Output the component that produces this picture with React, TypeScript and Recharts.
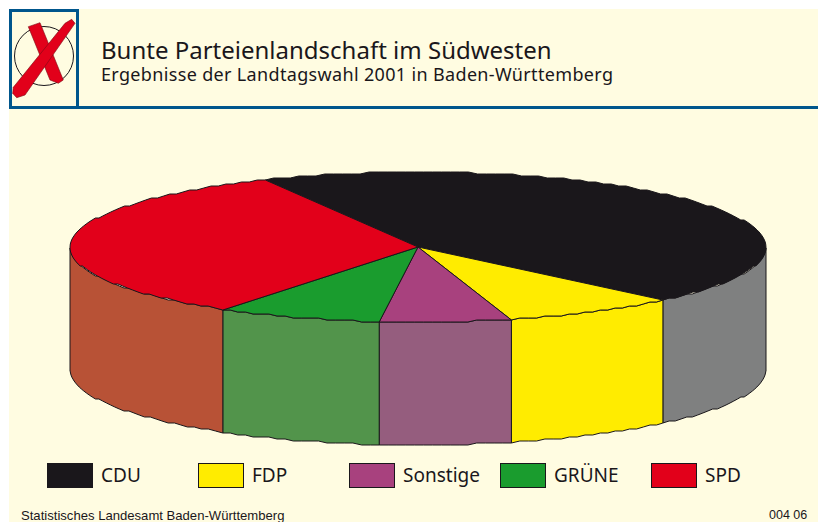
import { PieChart, Pie, Legend } from 'recharts'

const PARTIES = ['CDU', 'FDP', 'Sonstige', 'GRÜNE', 'SPD']
const SHARES = [44.8, 8.1, 6.1, 7.7, 33.3]
const TOP_COLORS = ['#1A171B', '#FFEC00', '#A8417E', '#1A9C2E', '#E2001A']
const WALL_COLORS = ['#7F8080', '#FFEC00', '#955D7E', '#52944B', '#B85236']

const TITLE = 'Bunte Parteienlandschaft im Südwesten'
const SUBTITLE = 'Ergebnisse der Landtagswahl 2001 in Baden-Württemberg'
const SOURCE = 'Statistisches Landesamt Baden-Württemberg'
const CODE = '004 06'

const CREAM = '#FFFCE1'
const BLUE = '#00568C'
const INK = '#1A171B'

const tableData = PARTIES.map((name, i) => ({
  name,
  value: SHARES[i],
  fill: TOP_COLORS[i],
  wall: WALL_COLORS[i],
}))

// pie is squashed into an ellipse, depth is the height of the drum
const SQUASH = 75 / 348
const DEPTH = 123
const STEP = 1.5
const JAG = 2 // the original outline is ragged, snap y to a coarse grid

function arcPoints(cx: number, cy: number, r: number, from: number, to: number) {
  const pts: [number, number][] = []
  const n = Math.max(1, Math.ceil(Math.abs(from - to) / STEP))
  for (let i = 0; i <= n; i++) {
    const a = ((from + ((to - from) * i) / n) * Math.PI) / 180
    const y = cy - r * SQUASH * Math.sin(a)
    pts.push([cx + r * Math.cos(a), Math.round(y / JAG) * JAG])
  }
  return pts
}

const toPath = (pts: [number, number][]) => 'M' + pts.map((p) => p[0].toFixed(1) + ' ' + p[1].toFixed(1)).join('L') + 'Z'

function DrumSlice(props: any) {
  const { cx, cy, outerRadius, startAngle, endAngle, fill, payload } = props
  const wall = payload?.wall ?? props.wall
  const hi = Math.min(startAngle, 0)
  const lo = Math.max(endAngle, -180)
  const top = arcPoints(cx, cy, outerRadius, startAngle, endAngle)
  let wallPath = ''
  if (hi > lo) {
    const upper = arcPoints(cx, cy, outerRadius, hi, lo)
    const lower = upper.map((p) => [p[0], p[1] + DEPTH] as [number, number]).reverse()
    wallPath = toPath([...upper, ...lower])
  }
  return (
    <g>
      {wallPath && <path d={wallPath} fill={wall} stroke={INK} strokeWidth={1} strokeLinejoin="round" />}
      <path d={toPath([[cx, cy], ...top])} fill={fill} stroke={INK} strokeWidth={1} strokeLinejoin="round" />
    </g>
  )
}

function PartyLegend({ payload }: any) {
  return (
    <div style={{ display: 'flex' }}>
      {(payload ?? []).map((item: any) => (
        <div key={item.value} style={{ width: 151, display: 'flex', alignItems: 'center' }}>
          <span style={{ width: 44, height: 23, background: item.color, border: `1px solid ${INK}`, marginRight: 8 }} />
          <span style={{ fontFamily: '"Noto Sans", sans-serif', fontSize: 19, lineHeight: '25px', color: INK }}>{item.value}</span>
        </div>
      ))}
    </div>
  )
}

function BallotMark() {
  return (
    <svg width={70} height={100} style={{ position: 'absolute', left: 9, top: 9 }}>
      <rect x={1.5} y={1.5} width={67} height={97} fill={CREAM} stroke={BLUE} strokeWidth={3} />
      <circle cx={35} cy={47} r={29.5} fill="none" stroke={INK} strokeWidth={1} />
      <path d="M19.3 17.7 L31 13.7 L54.3 71 L49.3 74.3 L41 71 Z" fill="#E2001A" stroke="#7a0a14" strokeWidth={0.6} />
      <path d="M56 14.3 L62.7 10.3 L66 14.3 L16 86 L7.7 88.7 L3.7 84.3 L4.3 78.3 Z" fill="#E2001A" stroke="#7a0a14" strokeWidth={0.6} />
    </svg>
  )
}

export default function App() {
  return (
    <div style={{ position: 'absolute', left: 0, top: 0, width: 825, height: 522, background: '#fff', overflow: 'hidden' }}>
      <div style={{ position: 'absolute', left: 9, top: 9, width: 809, height: 513, background: CREAM }} />
      <div style={{ position: 'absolute', left: 9, top: 106, width: 809, height: 3, background: BLUE }} />
      <BallotMark />
      <div style={{ position: 'absolute', left: 101, top: 37, fontFamily: '"Noto Sans", sans-serif', fontSize: 24, lineHeight: '26px', color: INK, whiteSpace: 'nowrap' }}>
        {TITLE}
      </div>
      <div style={{ position: 'absolute', left: 101, top: 64, fontFamily: '"Noto Sans", sans-serif', fontSize: 18, lineHeight: '21px', letterSpacing: 0.34, color: INK, whiteSpace: 'nowrap' }}>
        {SUBTITLE}
      </div>
      <div style={{ position: 'absolute', left: 0, top: 0 }}>
        <PieChart width={825} height={522} margin={{ top: 0, right: 0, bottom: 0, left: 0 }}>
          <Pie
            data={tableData}
            dataKey="value"
            nameKey="name"
            cx={418}
            cy={247}
            outerRadius={348}
            startAngle={116}
            endAngle={-244}
            shape={DrumSlice}
            isAnimationActive={false}
          />
          <Legend content={PartyLegend} itemSorter={null} wrapperStyle={{ left: 47, top: 463, width: 760, bottom: 'auto' }} />
        </PieChart>
      </div>
      <div style={{ position: 'absolute', left: 21, top: 508, fontFamily: '"Liberation Sans", sans-serif', fontSize: 13.1, lineHeight: '15px', color: INK, whiteSpace: 'nowrap' }}>
        {SOURCE}
      </div>
      <div style={{ position: 'absolute', left: 769, top: 508, fontFamily: '"Liberation Sans", sans-serif', fontSize: 12.5, lineHeight: '15px', color: INK, whiteSpace: 'nowrap' }}>
        {CODE}
      </div>
    </div>
  )
}
